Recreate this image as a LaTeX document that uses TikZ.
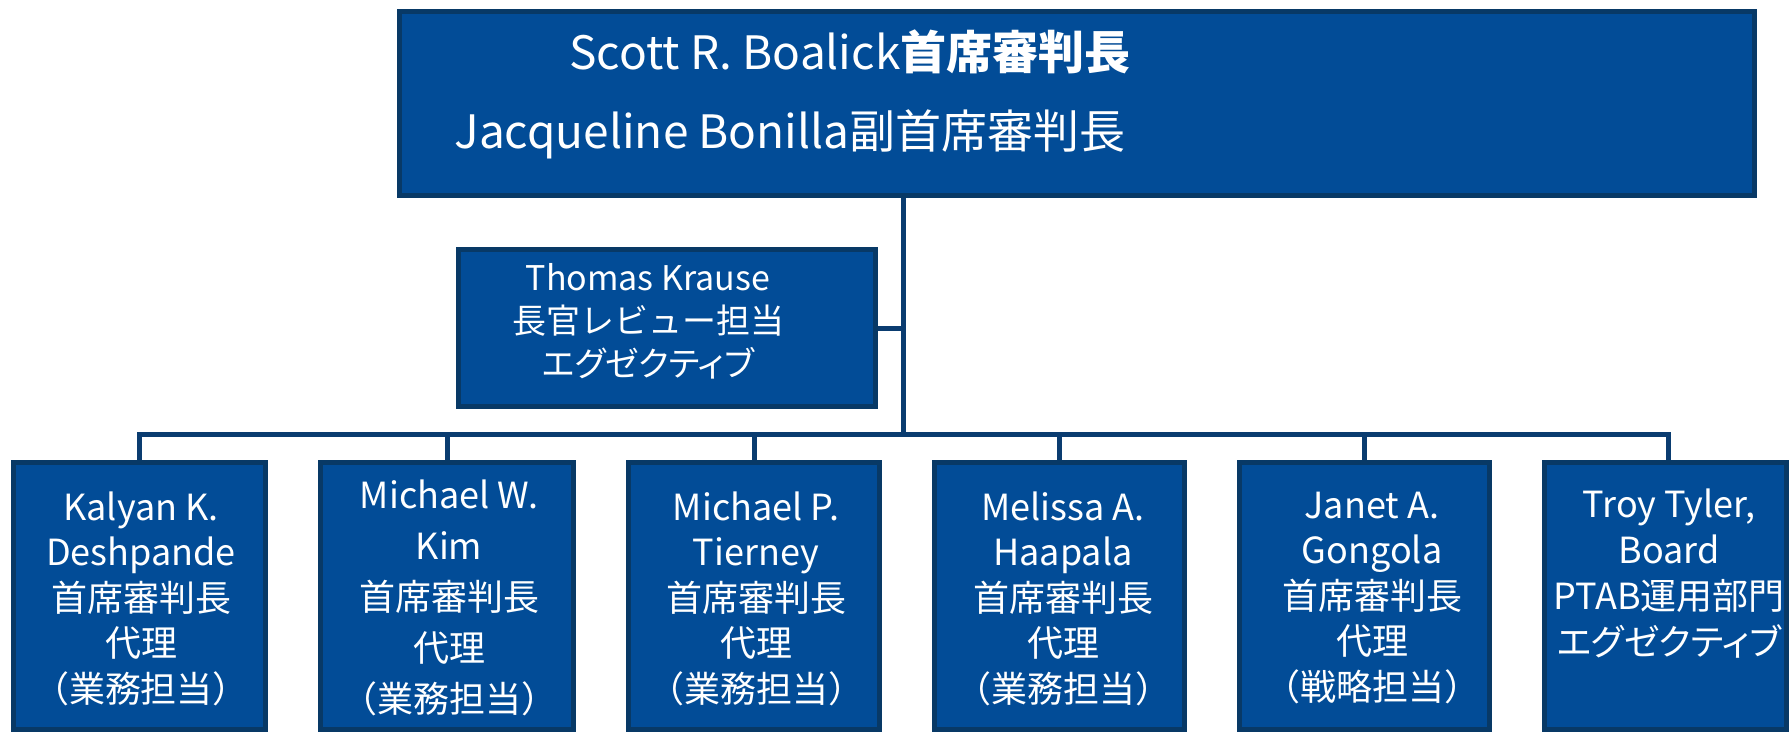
\documentclass[tikz,border=0pt]{standalone}
\usepackage{fontspec}
\setmainfont{Noto Sans CJK JP}
\newfontfamily\kana{Noto Sans CJK JP}[RawFeature=+palt]
\definecolor{boxfill}{RGB}{2,76,151}
\definecolor{boxline}{RGB}{8,57,102}
\definecolor{connline}{RGB}{10,60,112}
\begin{document}
\begin{tikzpicture}[x=1pt,y=-1pt,
  box/.style={draw=boxline, line width=5pt, fill=boxfill, rectangle, inner sep=0pt},
  conn/.style={draw=connline, line width=5pt},
  txt/.style={text=white, inner sep=0pt, anchor=base},
  bigtxt/.style={txt, font=\fontsize{46}{56}\selectfont},
  midtxt/.style={txt, font=\fontsize{34}{43}\selectfont},
  smalltxt/.style={txt, font=\fontsize{36}{45.5}\selectfont}]
\useasboundingbox (0,0) rectangle (1789,732);
\clip (0,0) rectangle (1789,732);
% boxes
\node[box, minimum width=1355pt, minimum height=184pt] (top) at (1077,103.5) {};
\node[box, minimum width=417pt, minimum height=157pt] (thomas) at (667,328) {};
\node[box, minimum width=252pt, minimum height=267pt] (b1) at (139.5,596) {};
\node[box, minimum width=253pt, minimum height=267pt] (b2) at (447,596) {};
\node[box, minimum width=251pt, minimum height=267pt] (b3) at (754,596) {};
\node[box, minimum width=250pt, minimum height=267pt] (b4) at (1059.5,596) {};
\node[box, minimum width=250pt, minimum height=267pt] (b5) at (1364.5,596) {};
\node[box, minimum width=241.5pt, minimum height=267pt] (b6) at (1665.5,596) {};
% connectors
\coordinate (hub) at (903,434.5);
\draw[conn] (top.south -| hub) -- (hub);
\draw[conn] (thomas.east) -- (thomas.east -| hub);
\draw[conn] (b1.north) -- (b1.north |- hub) -- ([xshift=2.5pt]b6.north |- hub) -- ([xshift=2.5pt]b6.north);
\foreach \b in {b2,b3,b4,b5} \draw[conn] (\b.north) -- (\b.north |- hub);
% top texts
\node[bigtxt] (t1) at (850,69) {Scott R. Boalick\textbf{首席審判長}};
\node[bigtxt] (t2) at (790,148) {Jacqueline Bonilla副首席審判長};
% Thomas
\foreach \t [count=\i] in {Thomas Krause,長官レビュー担当,{\kana エグゼクティブ}}
  \node[midtxt] (th\i) at (648,{290+43*(\i-1)}) {\t};
% bottom texts
\foreach \t [count=\i] in {Kalyan K.,Deshpande,首席審判長,代理,（業務担当）}
  \node[smalltxt] (b1l\i) at (141,{520+45.5*(\i-1)}) {\t};
\foreach \t [count=\i] in {Michael W.,Kim,首席審判長,代理,（業務担当）}
  \node[smalltxt] (b2l\i) at (449,{508+51*(\i-1)}) {\t};
\foreach \t [count=\i] in {Michael P.,Tierney,首席審判長,代理,（業務担当）}
  \node[smalltxt] (b3l\i) at (756,{520+45.5*(\i-1)}) {\t};
\foreach \t [count=\i] in {Melissa A.,Haapala,首席審判長,代理,（業務担当）}
  \node[smalltxt] (b4l\i) at (1063,{520+45.5*(\i-1)}) {\t};
\foreach \t [count=\i] in {Janet A.,Gongola,首席審判長,代理,（戦略担当）}
  \node[smalltxt] (b5l\i) at (1372,{518+45.5*(\i-1)}) {\t};
\foreach \t [count=\i] in {{Troy Tyler,},Board,PTAB運用部門,{\kana エグゼクティブ}}
  \node[smalltxt] (b6l\i) at (1669,{517+46*(\i-1)}) {\t};
\end{tikzpicture}
\end{document}
